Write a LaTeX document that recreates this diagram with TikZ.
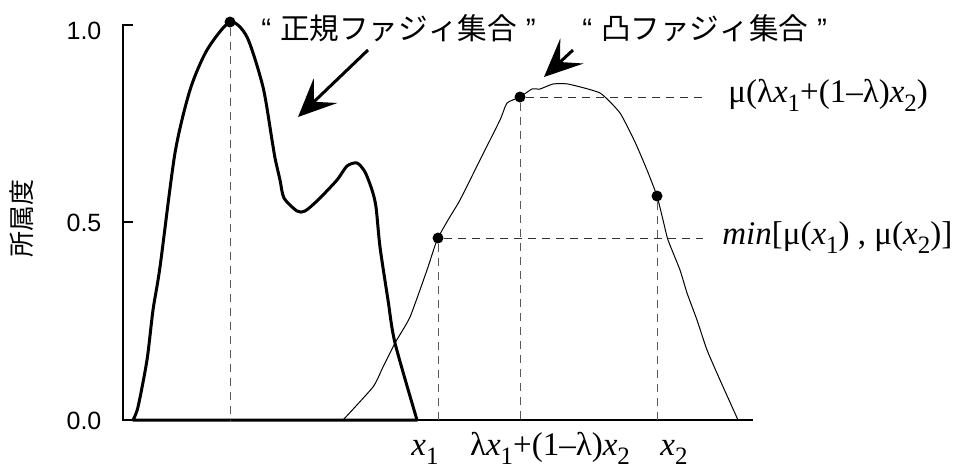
\documentclass[tikz,border=0pt]{standalone}
\usepackage{fontspec}
\setmainfont{Liberation Serif}
\newfontfamily\jpfont{Noto Sans CJK JP}
\newfontfamily\sffont{Liberation Sans}
\usetikzlibrary{arrows.meta}
\newcommand{\xsub}[1]{\textit{x}\raisebox{-0.3em}{\fontsize{12.5}{13}\selectfont #1}}

\begin{document}
\begin{tikzpicture}[x=0.5pt,y=-0.5pt,
  fuzzyA/.style={line width=1.5pt,line join=round},
  fuzzyB/.style={line width=0.5pt,line join=round},
  guide/.style={dash pattern=on 4pt off 3pt,line width=0.5pt,black!65},
  dot/.style={circle,fill,inner sep=0pt,minimum size=5.5pt},
  pointer/.style={line width=1.5pt,-{Stealth[length=19pt,width=17pt,inset=8pt]}},
  ticklab/.style={font=\sffont\fontsize{12.5}{14}\selectfont},
  jplab/.style={font=\jpfont\fontsize{14.8}{16}\selectfont,inner sep=0pt},
  mathlab/.style={font=\fontsize{16.5}{18}\selectfont,inner sep=0pt}]
\useasboundingbox (0,0) rectangle (956,468);

% axes
\coordinate (origin) at (123,420);
\coordinate (top) at (123,25);
\draw[line width=1pt] (133,25) -- (top) -- (origin) -- (753,420);
\draw[line width=1pt] (123,222) -- (133,222);
\node[ticklab] (t10) at (84,31) {1.0};
\node[ticklab] (t05) at (84,223) {0.5};
\node[ticklab] (t00) at (84,421) {0.0};
\node[rotate=90,font=\jpfont\fontsize{13}{15}\selectfont] (ylab) at (22,218) {所属度};

% normal fuzzy set
\draw[fuzzyA] plot[smooth,tension=0.45] coordinates {(133,420) (138,407) (147,360) (153,310)
  (160,267) (175,153) (190,90) (207,50) (230,22) (247,37) (263,87) (272,140) (275,158)
  (280,180) (284,198) (297,211) (305,211) (318,200) (337,180) (347,166) (357,163)
  (365,172) (372,190) (376,207) (380,247) (388,300) (395,343) (417,420)} -- cycle;

% convex fuzzy set
\draw[fuzzyB] plot[smooth,tension=0.3] coordinates {(343,420) (373,387) (383,367) (395,343)
  (410,317) (427,270) (437,240) (448,220) (460,200) (480,160) (500,120) (507,103)
  (520,97) (532,89) (540,89) (553,84) (568,84) (600,93) (620,113) (635,142) (647,170)
  (657,196) (663,220) (668,240) (680,270) (687,293) (697,320) (707,350) (720,380) (738,420)};

% points
\node[dot] (peak) at (230,22) {};
\node[dot] (mid) at (520,97) {};
\node[dot] (p1) at (438,238) {};
\node[dot] (p2) at (657,196) {};
\coordinate (midend) at (703,97);
\coordinate (minend) at (703,238);

\draw[guide] (peak) -- (peak |- origin);
\draw[guide] (mid) -- (mid |- origin);
\draw[guide] (p1) -- (p1 |- origin);
\draw[guide] (p2) -- (p2 |- origin);
\draw[guide,black!80] (mid) -- (midend);
\draw[guide,black!80] (p1) -- (minend);

% labels
\node[jplab,anchor=west] (normal) at (261,28) {{\sffont “}\hspace{0.3em}正規ファジィ集合\hspace{0.3em}{\sffont ”}};
\node[jplab,anchor=west] (convex) at (582,28) {{\sffont “}\hspace{0.3em}凸ファジィ集合\hspace{0.3em}{\sffont ”}};
\coordinate (a1) at (368,50);
\coordinate (a1tip) at (298,117);
\coordinate (a2) at (573,50);
\coordinate (a2tip) at (544,77);
\draw[pointer] (a1) -- (a1tip);
\draw[pointer] (a2) -- (a2tip);

\node[mathlab,anchor=base west] (mulab) at (728,102) {μ(λ\xsub{1}+(1–λ)\xsub{2})};
\node[mathlab,anchor=base west] (minlab) at (722,244) {\textit{min}[μ(\xsub{1}) , μ(\xsub{2})]};

\node[mathlab,anchor=base] (x1lab) at (425,455) {\xsub{1}};
\node[mathlab,anchor=base] (xlam) at (550,455) {λ\xsub{1}+(1–λ)\xsub{2}};
\node[mathlab,anchor=base] (x2lab) at (674,455) {\xsub{2}};
\end{tikzpicture}
\end{document}
